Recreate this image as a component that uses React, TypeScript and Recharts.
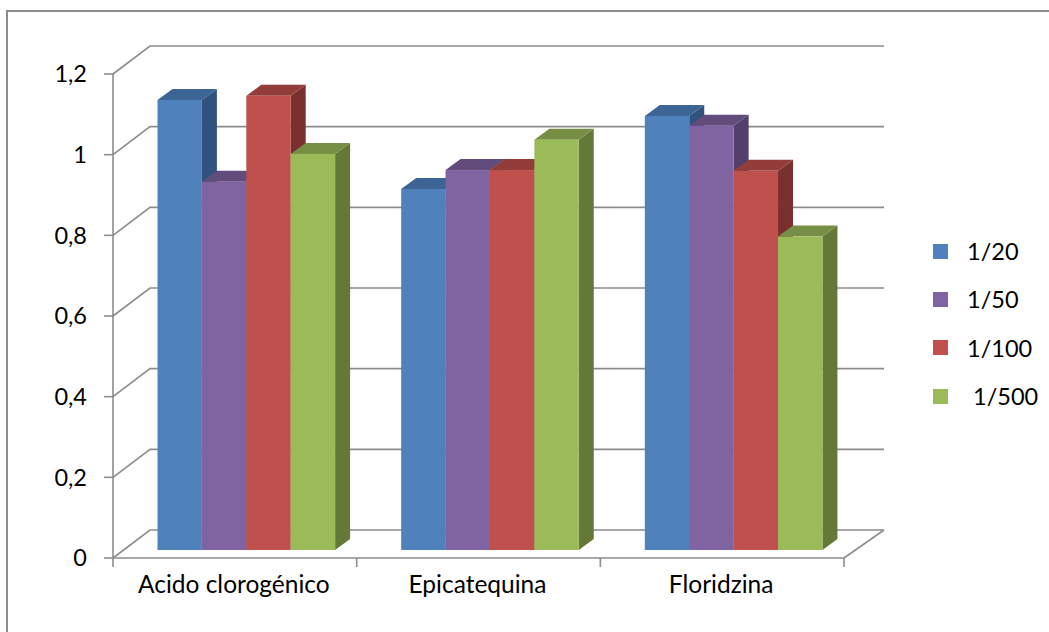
import { BarChart, Bar, XAxis, YAxis, CartesianGrid, Legend } from 'recharts'

const categories = ['Acido clorogénico', 'Epicatequina', 'Floridzina']
const seriesNames = ['1/20', '1/50', '1/100', ' 1/500']
const values120 = [1.116, 0.895, 1.076]
const values150 = [0.913, 0.942, 1.052]
const values1100 = [1.126, 0.942, 0.94]
const values1500 = [0.982, 1.017, 0.777]
const seriesValues = [values120, values150, values1100, values1500]
const yTicks = [0, 0.2, 0.4, 0.6, 0.8, 1, 1.2]

// front, top and side face of each series
const frontColors = ['#4f81bd', '#8064a2', '#c0504d', '#9bbb59']
const topColors = ['#3c6494', '#624c7c', '#933d3a', '#778f44']
const sideColors = ['#30527c', '#523f6b', '#7a302e', '#647938']

const rows = categories.map((name, i) => {
  const row: Record<string, string | number> = { name }
  seriesNames.forEach((s, j) => {
    row[s] = seriesValues[j][i]
  })
  return row
})

const WIDTH = 1049
const HEIGHT = 632
const PLOT_LEFT = 113
const PLOT_RIGHT = 844
const PLOT_TOP = 74
const PLOT_BOTTOM = 558
const BAND = (PLOT_RIGHT - PLOT_LEFT) / categories.length

const AXIS_GREY = '#8c8c8c'
const FONT = 'Lato, "Open Sans", sans-serif'
const LABEL_SIZE = 24.5
const NUMBER_SIZE = 23.5

// depth of the back wall, and of the bars standing on the floor
const WALL_DX = 37
const WALL_DY = 28
const BAR_WIDTH = 44.4
const BAR_SHIFT_X = 11.5
const BAR_SHIFT_Y = 8
const BAR_DX = 15
const BAR_DY = 11

function makeBarShape(seriesIndex: number) {
  return function BarShape(props: any) {
    const { x, y, width, height } = props
    const left = x + BAR_SHIFT_X
    const right = left + width
    const top = y - BAR_SHIFT_Y
    const bottom = top + height
    const topFace = `${left},${top} ${left + BAR_DX},${top - BAR_DY} ${right + BAR_DX},${top - BAR_DY} ${right},${top}`
    const sideFace = `${right},${top} ${right + BAR_DX},${top - BAR_DY} ${right + BAR_DX},${bottom - BAR_DY} ${right},${bottom}`
    return (
      <g>
        <polygon points={sideFace} fill={sideColors[seriesIndex]} />
        <polygon points={topFace} fill={topColors[seriesIndex]} />
        <rect x={left} y={top} width={width} height={height} fill={frontColors[seriesIndex]} />
      </g>
    )
  }
}

// each gridline runs along the side wall and then along the back wall
function WallLine(props: any) {
  const { x1, y1, x2, key } = props
  const backY = y1 - WALL_DY
  const isFloor = Math.abs(y1 - PLOT_BOTTOM) < 1
  return (
    <g key={key}>
      <polyline
        points={`${x1},${y1} ${x1 + WALL_DX},${backY} ${x2 + WALL_DX + 3},${backY}`}
        fill="none"
        stroke={AXIS_GREY}
        strokeWidth={1.6}
      />
      {isFloor && (
        <line x1={x2} y1={y1} x2={x2 + WALL_DX + 3} y2={backY} stroke={AXIS_GREY} strokeWidth={1.6} />
      )}
    </g>
  )
}

function CategoryTick(props: any) {
  const { x, y, payload, index } = props
  const isLast = index === categories.length - 1
  return (
    <g>
      <line x1={x - BAND / 2} y1={PLOT_BOTTOM} x2={x - BAND / 2} y2={PLOT_BOTTOM + 9} stroke={AXIS_GREY} strokeWidth={1.6} />
      {isLast && (
        <line x1={x + BAND / 2} y1={PLOT_BOTTOM} x2={x + BAND / 2} y2={PLOT_BOTTOM + 9} stroke={AXIS_GREY} strokeWidth={1.6} />
      )}
      <text x={x - 1} y={y + 27} textAnchor="middle" fontSize={LABEL_SIZE} fontFamily={FONT} fill="#000">
        {payload.value}
      </text>
    </g>
  )
}

function LegendBox() {
  return (
    <div style={{ fontFamily: FONT, fontSize: NUMBER_SIZE, color: '#000' }}>
      {seriesNames.map((name, i) => (
        <div key={name} style={{ display: 'flex', alignItems: 'center', height: 48.3 }}>
          <span style={{ width: 15, height: 15, background: frontColors[i], marginRight: 19 }} />
          <span style={{ whiteSpace: 'pre' }}>{name}</span>
        </div>
      ))}
    </div>
  )
}

export default function App() {
  return (
    <div style={{ position: 'absolute', left: 0, top: 0, width: WIDTH, height: HEIGHT, background: '#fff', overflow: 'hidden' }}>
      <div
        style={{
          position: 'absolute',
          left: 6,
          top: 10,
          width: WIDTH,
          height: HEIGHT,
          borderLeft: `2px solid ${AXIS_GREY}`,
          borderTop: `2px solid ${AXIS_GREY}`,
        }}
      />
      <BarChart
        width={WIDTH}
        height={HEIGHT}
        data={rows}
        margin={{ left: PLOT_LEFT - 100, right: WIDTH - PLOT_RIGHT, top: PLOT_TOP, bottom: 0 }}
        barSize={BAR_WIDTH}
        barGap={0}
        style={{ position: 'absolute', left: 0, top: 0 }}
      >
        <CartesianGrid vertical={false} horizontal={WallLine} />
        <XAxis
          dataKey="name"
          height={HEIGHT - PLOT_BOTTOM}
          axisLine={{ stroke: AXIS_GREY, strokeWidth: 1.6 }}
          tickLine={false}
          tick={CategoryTick}
          interval={0}
        />
        <YAxis
          width={100}
          domain={[0, 1.2]}
          ticks={yTicks}
          interval={0}
          tickSize={9}
          tickMargin={17}
          tickFormatter={(v: number) => String(v).replace('.', ',')}
          axisLine={{ stroke: AXIS_GREY, strokeWidth: 1.6 }}
          tickLine={{ stroke: AXIS_GREY, strokeWidth: 1.6 }}
          tick={{ fill: '#000', fontSize: NUMBER_SIZE, fontFamily: FONT }}
        />
        {seriesNames.map((s, i) => (
          <Bar key={s} dataKey={s} fill={frontColors[i]} shape={makeBarShape(i)} isAnimationActive={false} />
        ))}
        <Legend
          layout="horizontal"
          verticalAlign="middle"
          align="center"
          content={LegendBox}
          wrapperStyle={{ left: 933, top: 227, width: 116, height: 195 }}
        />
      </BarChart>
    </div>
  )
}
